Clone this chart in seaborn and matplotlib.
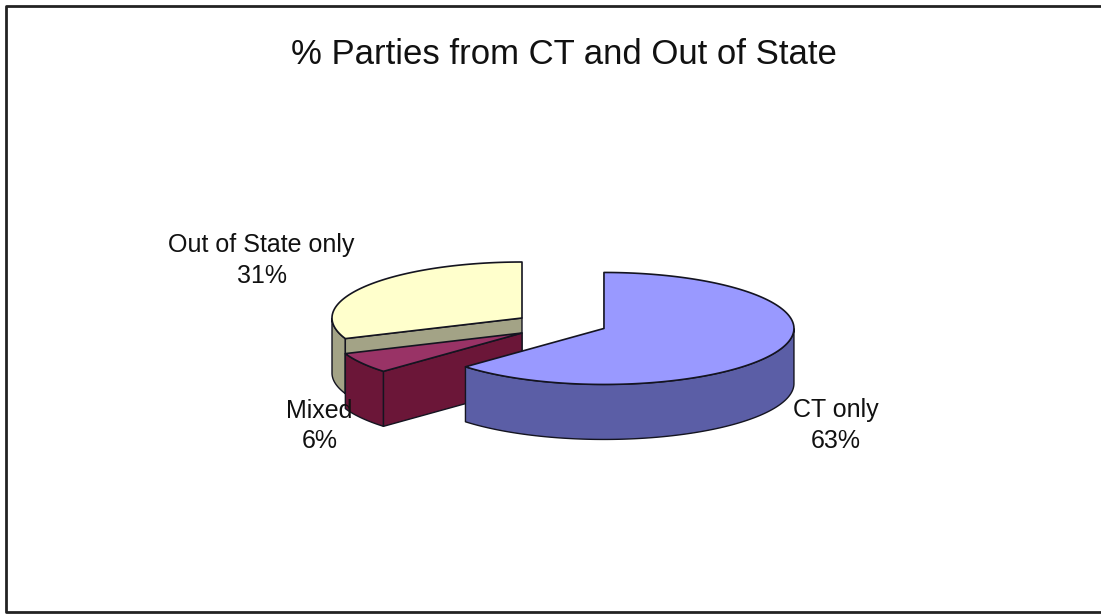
import numpy as np
import matplotlib
matplotlib.use("Agg")
import matplotlib.pyplot as plt
import seaborn as sns
from matplotlib.patches import Polygon

# Data
labels = ["CT only", "Mixed", "Out of State only"]
shares = [63, 6, 31]
title = "% Parties from CT and Out of State"

# Styling (Excel-like 3D pie)
top_colors = ["#9999FF", "#993366", "#FFFFCC"]
side_colors = ["#5B5EA6", "#6B1638", "#A3A386"]
explode = [0.47, 0.0, 0.0]
drop = [0, 15, 0]
label_offsets = [(15, 20), (-9, 8), (-10, -26)]
label_ha = ["left", "right", "right"]

sns.set_theme(style="white")
plt.rcParams["font.family"] = ["Liberation Sans", "DejaVu Sans"]

fig = plt.figure(figsize=(11.01, 6.16), dpi=100)
ax = fig.add_axes([0, 0, 1, 1])
ax.set_xlim(0, 1101)
ax.set_ylim(616, 0)
ax.axis("off")

# pie geometry in pixel units
cx, cy = 522, 318
rx, ry = 190, 56
depth = 55


def rim(x0, y0, th):
    return x0 + rx * np.cos(th), y0 - ry * np.sin(th)


slices = []
start = 90.0
for i, share in enumerate(shares):
    a0 = np.radians(start)
    a1 = np.radians(start - share * 3.6)
    start -= share * 3.6
    mid = (a0 + a1) / 2
    x0 = cx + explode[i] * rx * np.cos(mid)
    y0 = cy - explode[i] * ry * np.sin(mid) + drop[i]

    th = np.linspace(a1, a0, 300)
    rxs, rys = rim(x0, y0, th)
    top = np.column_stack([np.r_[x0, rxs], np.r_[y0, rys]])

    faces = []
    # outer wall, only the front half shows
    front = np.sin(th) < 0
    idx = np.where(front)[0]
    if len(idx) > 1:
        runs = np.split(idx, np.where(np.diff(idx) > 1)[0] + 1)
        for run in runs:
            if len(run) < 2:
                continue
            px, py = rxs[run], rys[run]
            wall = np.column_stack([np.r_[px, px[::-1]], np.r_[py, py[::-1] + depth]])
            faces.append(wall)
    # radial cut faces
    for ang, visible in [(a0, np.cos(a0) < -1e-6), (a1, np.cos(a1) > 1e-6)]:
        if visible:
            ex, ey = rim(x0, y0, ang)
            faces.append(np.array([[x0, y0], [ex, ey], [ex, ey + depth], [x0, y0 + depth]]))

    slices.append(dict(i=i, top=top, faces=faces, key=top[:, 1].max(),
                       mid=mid, x0=x0, y0=y0))

for s in sorted(slices, key=lambda d: d["key"]):
    i = s["i"]
    for f in s["faces"]:
        ax.add_patch(Polygon(f, closed=True, facecolor=side_colors[i],
                             edgecolor="#141420", linewidth=1.0, joinstyle="round"))
    ax.add_patch(Polygon(s["top"], closed=True, facecolor=top_colors[i],
                         edgecolor="#141420", linewidth=1.2, joinstyle="round"))

# data labels
for s in slices:
    i = s["i"]
    lx, ly = rim(s["x0"], s["y0"], s["mid"])
    if np.sin(s["mid"]) < 0:
        ly += depth
    dx, dy = label_offsets[i]
    ax.text(lx + dx, ly + dy, f"{labels[i]}\n{shares[i]}%", ha=label_ha[i], va="center",
            multialignment="center", fontsize=18, linespacing=1.35, color="#111111")

ax.text(564, 55, title, ha="center", va="center", fontsize=25, color="#111111")

# chart frame (right side is cut off in the original)
ax.plot([1110, 5.5, 5.5, 1110], [5.5, 5.5, 612, 612], color="#222222", lw=2, clip_on=False)

fig.savefig("out.png", dpi=100)
